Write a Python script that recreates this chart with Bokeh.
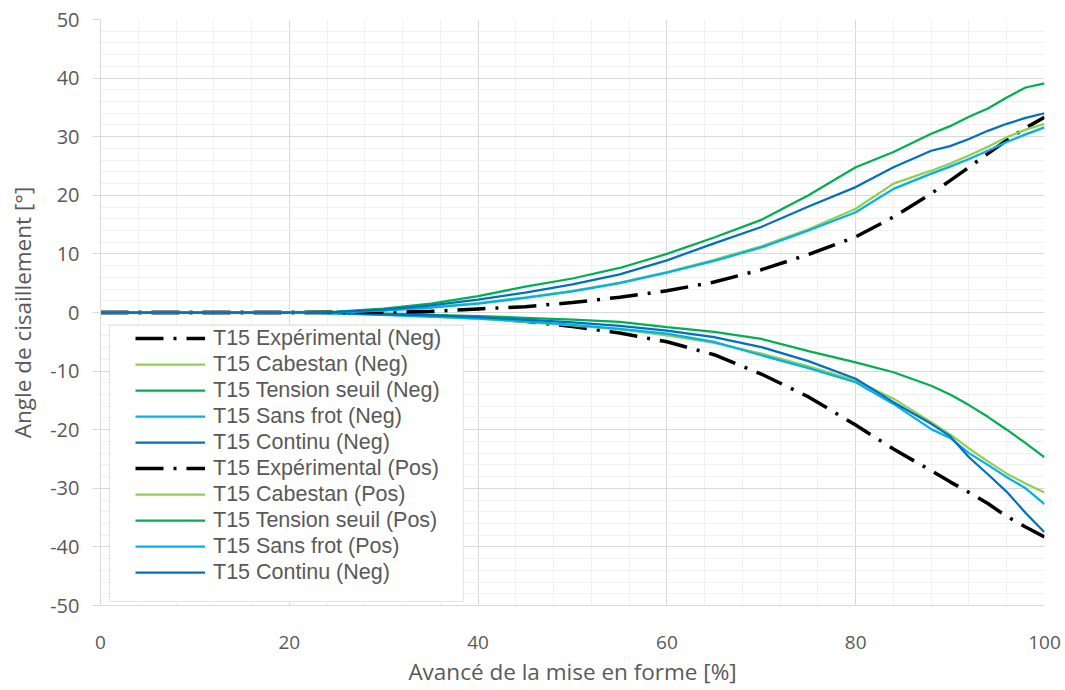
from bokeh.plotting import figure
from bokeh.models import (Range1d, SingleIntervalTicker, Legend, LegendItem,
                          BoxAnnotation, PrintfTickFormatter)
from bokeh.embed import file_html
from bokeh.resources import INLINE

# ---- data ----
x = [0, 5, 10, 15, 20, 25, 30, 35, 40, 45, 50, 55, 60, 65, 70, 75, 80, 84, 88, 90, 92, 94, 96, 98, 100]

exp_neg = [0, 0, 0, 0, 0, 0, -0.2, -0.5, -0.9, -1.5, -2.4, -3.5, -5.0, -7.2, -10.5, -14.4, -19.2, -23.3, -27.0, -28.9, -30.7, -32.6, -34.8, -36.6, -38.3]
cab_neg = [0, 0, 0, 0, 0, -0.15, -0.4, -0.7, -1.1, -1.6, -2.2, -2.9, -3.9, -5.2, -7.0, -9.2, -11.6, -14.7, -18.7, -20.8, -23.2, -25.4, -27.5, -29.2, -30.7]
ts_neg = [0, 0, 0, 0, 0, -0.1, -0.2, -0.4, -0.6, -0.9, -1.2, -1.6, -2.5, -3.3, -4.5, -6.6, -8.5, -10.2, -12.5, -14.0, -15.8, -17.8, -20.0, -22.3, -24.7]
sf_neg = [0, 0, 0, 0, 0, -0.15, -0.4, -0.7, -1.0, -1.5, -2.1, -2.8, -3.6, -5.0, -7.3, -9.5, -11.9, -15.6, -19.9, -21.4, -24.0, -26.0, -28.1, -30.0, -32.7]
con_neg = [0, 0, 0, 0, 0, -0.1, -0.3, -0.5, -0.8, -1.2, -1.7, -2.3, -3.1, -4.2, -5.9, -8.3, -11.3, -15.3, -19.0, -21.1, -24.7, -27.6, -30.6, -34.2, -37.5]

exp_pos = [0, 0, 0, 0, 0, 0.05, 0.1, 0.2, 0.6, 1.0, 1.7, 2.6, 3.7, 5.2, 7.3, 9.9, 12.9, 16.3, 20.3, 22.5, 24.8, 27.1, 29.4, 31.5, 33.3]
cab_pos = [0, 0, 0, 0, 0, 0.05, 0.35, 0.9, 1.6, 2.6, 3.7, 5.1, 6.9, 9.0, 11.3, 14.2, 17.7, 22.0, 24.2, 25.4, 26.8, 28.3, 29.9, 31.2, 32.2]
ts_pos = [0, 0, 0, 0, 0.05, 0.15, 0.65, 1.5, 2.8, 4.4, 5.8, 7.6, 10.0, 12.8, 15.8, 20.0, 24.8, 27.4, 30.5, 31.8, 33.4, 34.8, 36.7, 38.4, 39.1]
sf_pos = [0, 0, 0, 0, 0, 0.05, 0.3, 0.85, 1.5, 2.5, 3.6, 5.0, 6.8, 8.8, 11.1, 14.0, 17.1, 21.1, 23.7, 24.9, 26.2, 27.6, 29.1, 30.4, 31.6]
con_pos = [0, 0, 0, 0, 0, 0.1, 0.5, 1.2, 2.2, 3.4, 4.8, 6.5, 8.9, 11.8, 14.6, 18.1, 21.4, 24.8, 27.6, 28.4, 29.6, 31.0, 32.2, 33.2, 34.0]

labels = [
    "T15 Expérimental (Neg)", "T15 Cabestan (Neg)", "T15 Tension seuil (Neg)",
    "T15 Sans frot (Neg)", "T15 Continu (Neg)",
    "T15 Expérimental (Pos)", "T15 Cabestan (Pos)", "T15 Tension seuil (Pos)",
    "T15 Sans frot (Pos)", "T15 Continu (Neg)",
]
series = [exp_neg, cab_neg, ts_neg, sf_neg, con_neg, exp_pos, cab_pos, ts_pos, sf_pos, con_pos]
colors = ["#000000", "#92d050", "#00b050", "#00b0f0", "#0070c0"] * 2
widths = [3.5, 2.25, 2.25, 2.25, 2.25] * 2
dashes = ["28 10 3 10", "solid", "solid", "solid", "solid"] * 2

FONT = "Open Sans"
LEG_FONT = "Liberation Sans"
GREY = "#595959"

p = figure(width=1062, height=690, x_range=Range1d(0, 100), y_range=Range1d(-50, 50),
           output_backend="svg", toolbar_location=None,
           min_border_left=100, min_border_right=18, min_border_top=19, min_border_bottom=85)
p.outline_line_color = None
p.background_fill_color = "white"

p.xaxis.ticker = SingleIntervalTicker(interval=20, num_minor_ticks=5)
p.yaxis.ticker = SingleIntervalTicker(interval=10, num_minor_ticks=5)
p.xgrid.ticker = p.xaxis[0].ticker
p.ygrid.ticker = p.yaxis[0].ticker
p.xaxis.formatter = PrintfTickFormatter(format="%d")
p.yaxis.formatter = PrintfTickFormatter(format="%d")

for g in (p.xgrid[0], p.ygrid[0]):
    g.grid_line_color = "#d9d9d9"
    g.grid_line_width = 1
    g.minor_grid_line_color = "#f0f0f0"
    g.minor_grid_line_width = 1

for ax in (p.xaxis[0], p.yaxis[0]):
    ax.axis_line_color = "#d9d9d9"
    ax.minor_tick_line_color = None
    ax.major_label_text_font = FONT
    ax.major_label_text_color = GREY
    ax.axis_label_text_font = FONT
    ax.axis_label_text_font_size = "22.5px"
    ax.axis_label_text_font_style = "normal"
    ax.axis_label_text_color = GREY

p.xaxis.major_label_text_font_size = "19px"
p.xaxis.major_tick_line_color = None
p.xaxis.major_label_standoff = 24
p.xaxis.axis_label_standoff = 4
p.xaxis.axis_label = "Avancé de la mise en forme [%]"

p.yaxis.major_label_text_font_size = "20px"
p.yaxis.major_tick_line_color = "#d9d9d9"
p.yaxis.major_tick_out = 8
p.yaxis.major_tick_in = 0
p.yaxis.major_label_standoff = 13
p.yaxis.axis_label_standoff = 9
p.yaxis.axis_label = "Angle de cisaillement [°]"

items = []
for lab, ys, c, w, d in zip(labels, series, colors, widths, dashes):
    r = p.line(x, ys, line_color=c, line_width=w, line_dash=d)
    items.append(LegendItem(label=lab, renderers=[r]))

# legend frame (white box with grey border)
p.add_layout(BoxAnnotation(left=0.95, right=38.45, top=-2.2, bottom=-49.3,
                           fill_color="white", fill_alpha=1,
                           line_color="#a6a6a6", line_width=1, level="annotation"))

legend = Legend(items=items, location=(35, 20))
legend.label_text_font = LEG_FONT
legend.label_text_font_size = "21.5px"
legend.label_text_color = GREY
legend.border_line_color = None
legend.background_fill_alpha = 0
legend.glyph_width = 70
legend.glyph_height = 26
legend.label_height = 26
legend.spacing = 0
legend.padding = 0
legend.margin = 0
legend.label_standoff = 8
p.add_layout(legend)

open("out.html", "w").write(file_html(p, INLINE))
